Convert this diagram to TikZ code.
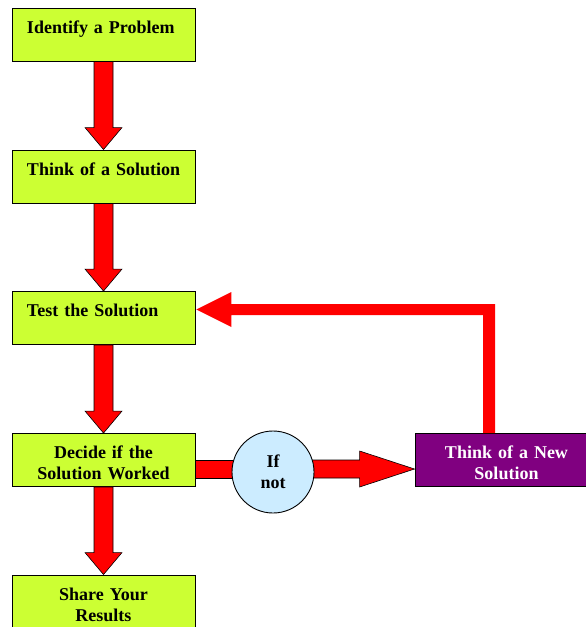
\documentclass[tikz,border=0pt]{standalone}
\usepackage{fontspec}
\setmainfont{Liberation Serif}
\usetikzlibrary{calc,backgrounds}

\definecolor{boxgreen}{HTML}{CCFF33}
\definecolor{boxpurple}{HTML}{800080}
\definecolor{ifblue}{HTML}{CCECFF}
\definecolor{flowred}{HTML}{FF0000}

\tikzset{
  stepbox/.style={draw=black, line width=0.9pt, fill=boxgreen,
    minimum width=183pt, minimum height=53pt, inner ysep=0pt,
    font=\bfseries\fontsize{18}{21}\selectfont},
  leftbox/.style={stepbox, text width=168pt, inner xsep=7.5pt, align=left,
    execute at begin node={\hspace*{7.5pt}\rule{0pt}{18.5pt}}},
  centerbox/.style={stepbox, text width=153pt, inner xsep=15pt, align=center,
    execute at begin node={\rule{0pt}{18.5pt}}},
  newbox/.style={centerbox, fill=boxpurple, text=white},
  ifcircle/.style={circle, draw=black, line width=0.9pt, fill=ifblue,
    minimum size=82pt, inner sep=0pt, align=center,
    font=\bfseries\fontsize{18}{21}\selectfont},
  blockarrow/.style={fill=flowred, draw=black, line width=0.6pt, line join=miter},
  loopline/.style={fill=flowred, draw=none}
}

% downward block arrow from the bottom of one box to the top of the next
\newcommand\blockdown[2]{%
  \draw[blockarrow] let \p1=(#1.south), \p2=(#2.north) in
    (\x1-9.5pt,\y1) -- (\x1+9.5pt,\y1) -- (\x1+9.5pt,\y2+22pt)
    -- (\x1+18.5pt,\y2+22pt) -- (\x1,\y2) -- (\x1-18.5pt,\y2+22pt)
    -- (\x1-9.5pt,\y2+22pt) -- cycle;}

\begin{document}
\begin{tikzpicture}[x=1pt, y=-1pt]
  \useasboundingbox (0,0) rectangle (586,627);

  % process steps
  \node[leftbox]   (ident) at (103.5,34.5)  {Identify a Problem\\\mbox{}};
  \node[leftbox]   (think) at (103.5,176.5) {Think of a Solution\\\mbox{}};
  \node[leftbox]   (test)  at (103.5,318)   {Test the Solution\\\mbox{}};
  \node[centerbox] (dec)   at (103.5,460)   {Decide if the\\Solution Worked};
  \node[centerbox] (share) at (103.5,601.5) {Share Your\\Results};
  \node[ifcircle]  (ifnot) at (273,472)     {If\\not};
  \node[newbox]    (new)   at (506.5,460)   {Think of a New\\Solution};

  \coordinate (row)  at (0,469);
  \coordinate (bend) at (489,309.5);

  % main sequence
  \blockdown{ident}{think}
  \blockdown{think}{test}
  \blockdown{test}{dec}
  \blockdown{dec}{share}

  % branch when the solution failed
  \begin{scope}[on background layer]
    \draw[blockarrow] let \p1=(dec.east), \p3=(row), \p4=(ifnot.center) in
      (\x1,\y3+9pt) -- (\x4,\y3+9pt) -- (\x4,\y3-9pt) -- (\x1,\y3-9pt) -- cycle;
    \draw[blockarrow] let \p1=(ifnot.east), \p2=(new.west), \p3=(row) in
      (\x1-6pt,\y3+9pt) -- (\x2-55pt,\y3+9pt) -- (\x2-55pt,\y3+18pt)
      -- (\x2,\y3) -- (\x2-55pt,\y3-18pt) -- (\x2-55pt,\y3-9pt)
      -- (\x1-6pt,\y3-9pt) -- cycle;
  \end{scope}

  % loop back to testing
  \fill[loopline] let \p1=(new.north), \p2=(test.east), \p3=(bend) in
    (\x3-6pt,\y1) -- (\x3+6pt,\y1) -- (\x3+6pt,\y3+5.5pt)
    -- (\x2+36pt,\y3+5.5pt) -- (\x2+36pt,\y3+17.5pt) -- (\x2+1pt,\y3)
    -- (\x2+36pt,\y3-17.5pt) -- (\x2+36pt,\y3-5.5pt)
    -- (\x3-6pt,\y3-5.5pt) -- cycle;
\end{tikzpicture}
\end{document}
